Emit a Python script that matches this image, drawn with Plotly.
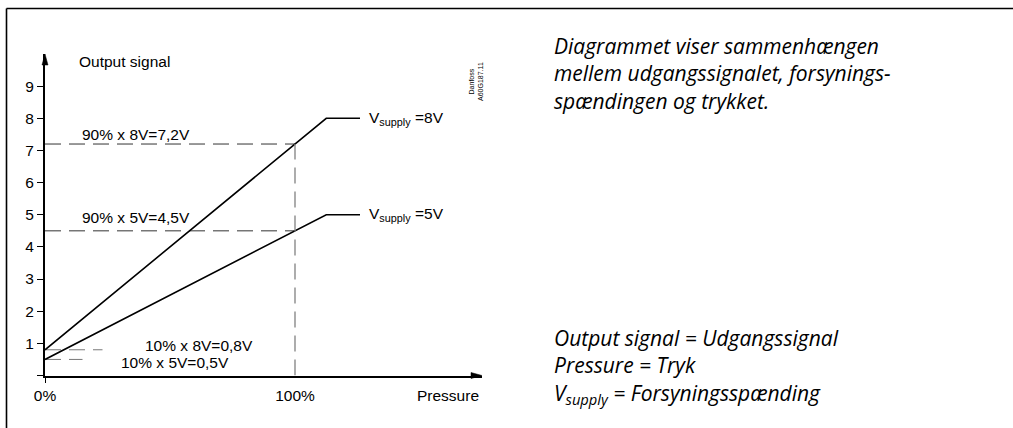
import plotly.graph_objects as go

W, H = 1013, 428

# ---- data ----
pressure_pts = [0.0, 1.125, 1.26]          # fraction of full-scale pressure
out_8v = [0.8, 8.0, 8.0]                    # output signal, Vsupply = 8 V
out_5v = [0.5, 5.0, 5.0]                    # output signal, Vsupply = 5 V
full_scale = 1.0                            # 100 % pressure
hi_levels = [7.2, 4.5]                      # 90 % of supply
lo_levels = [0.8, 0.5]                      # 10 % of supply
lo_dash_end = [0.23, 0.15]
y_ticks = [0, 1, 2, 3, 4, 5, 6, 7, 8, 9]
y_ticktext = ["", "1", "2", "3", "4", "5", "6", "7", "8", "9"]
x_ticks = [0.0, 1.0]
x_ticktext = ["0%", "100%"]
x_max, y_max = 1.748, 10.0

desc_lines = ["Diagrammet viser sammenhængen",
              "mellem udgangssignalet, forsynings-",
              "spændingen og trykket."]
legend_lines = ["Output signal = Udgangssignal",
                "Pressure = Tryk",
                "V<sub>supply</sub> = Forsyningsspænding"]

FONT = "Liberation Sans, Arial, sans-serif"
FS = 15.5

def px(x):
    return x / W

def py(y):
    return 1 - y / H

# axis geometry in pixels
AX_L, AX_R, AX_B, AX_T = 45, 482, 375.5, 54

fig = go.Figure()

dash_pat = "16px,8px"
for lvl in hi_levels:
    fig.add_trace(go.Scatter(x=[0, full_scale], y=[lvl, lvl], mode="lines",
                             line=dict(color="#333333", width=1, dash=dash_pat),
                             hoverinfo="skip", showlegend=False))
for lvl, xe in zip(lo_levels, lo_dash_end):
    fig.add_trace(go.Scatter(x=[0, xe], y=[lvl, lvl], mode="lines",
                             line=dict(color="#777777", width=1, dash=dash_pat),
                             hoverinfo="skip", showlegend=False))
fig.add_trace(go.Scatter(x=[full_scale, full_scale], y=[0, hi_levels[0]], mode="lines",
                         line=dict(color="#808080", width=1.3, dash=dash_pat),
                         xaxis="x2", hoverinfo="skip", showlegend=False))

for ys in (out_8v, out_5v):
    fig.add_trace(go.Scatter(x=pressure_pts, y=ys, mode="lines",
                             line=dict(color="black", width=1.6),
                             hoverinfo="skip", showlegend=False))

ann = []
def label(x, y, text, xanchor="left", size=FS):
    ann.append(dict(x=x, y=y, xref="x", yref="y", text=text, showarrow=False,
                    xanchor=xanchor, yanchor="middle",
                    font=dict(family=FONT, size=size, color="black")))

label(0.128, 9.77, "Output signal")
label(0.14, 7.49, "90% x 8V=7,2V")
label(0.14, 4.90, "90% x 5V=4,5V")
label(0.392, 0.92, "10% x 8V=0,8V")
label(0.296, 0.39, "10% x 5V=0,5V")
label(1.288, out_8v[-1], "V<sub>supply</sub> =8V")
label(1.288, out_5v[-1], "V<sub>supply</sub> =5V")
ann.append(dict(x=px(481), y=py(395), xref="paper", yref="paper", text="Pressure",
                showarrow=False, xanchor="right", yanchor="middle",
                font=dict(family=FONT, size=FS, color="black")))

ann.append(dict(x=px(476), y=py(82), xref="paper", yref="paper", text="Danfoss<br>A60G187.11",
                showarrow=False, textangle=-90, xanchor="center", yanchor="middle",
                font=dict(family=FONT, size=7, color="black")))

RFONT = "Open Sans, Noto Sans, sans-serif"
RFS = 21
ann.append(dict(x=px(552), y=py(74), xref="paper", yref="paper",
                text="<i>" + "<br>".join(desc_lines) + "</i>", showarrow=False,
                xanchor="left", yanchor="middle", align="left",
                font=dict(family=RFONT, size=RFS, color="black")))
ann.append(dict(x=px(552), y=py(366.5), xref="paper", yref="paper",
                text="<i>" + "<br>".join(legend_lines) + "</i>", showarrow=False,
                xanchor="left", yanchor="middle", align="left",
                font=dict(family=RFONT, size=RFS, color="black")))

def ppath(points):
    return "M" + " L".join(f"{px(a):.5f},{py(b):.5f}" for a, b in points) + " Z"

shapes = [
    dict(type="line", xref="paper", yref="paper", x0=px(6.5), x1=1, y0=py(8.5), y1=py(8.5),
         line=dict(color="black", width=1.6)),
    dict(type="line", xref="paper", yref="paper", x0=px(6.5), x1=px(6.5), y0=py(8.5), y1=0,
         line=dict(color="black", width=1.6)),
    # arrowheads at the axis ends
    dict(type="path", xref="paper", yref="paper",
         path=ppath([(AX_L, AX_T), (AX_L - 3, AX_T + 11), (AX_L + 3, AX_T + 11)]),
         fillcolor="black", line=dict(color="black", width=0.5)),
    dict(type="path", xref="paper", yref="paper",
         path=ppath([(AX_R, AX_B), (AX_R - 11, AX_B - 3), (AX_R - 11, AX_B + 3)]),
         fillcolor="black", line=dict(color="black", width=0.5)),
]

fig.update_layout(
    width=W, height=H,
    margin=dict(l=0, r=0, t=0, b=0, autoexpand=False),
    paper_bgcolor="white", plot_bgcolor="white",
    showlegend=False,
    annotations=ann,
    shapes=shapes,
    xaxis=dict(domain=[px(AX_L), px(AX_R)], range=[0, x_max], showgrid=False, zeroline=False,
               showline=True, linecolor="black", linewidth=2, automargin=False,
               tickmode="array", tickvals=x_ticks, ticktext=x_ticktext, ticks="",
               ticklabelstandoff=5,
               tickfont=dict(family=FONT, size=FS, color="black"), anchor="y"),
    xaxis2=dict(matches="x", overlaying="x", anchor="y", side="bottom", showgrid=False,
                zeroline=False, showline=False, tickmode="array", tickvals=[0],
                ticks="outside", ticklen=6, tickwidth=1, tickcolor="black",
                showticklabels=False, automargin=False),
    yaxis=dict(domain=[py(AX_B), py(AX_T)], range=[0, y_max], showgrid=False, zeroline=False,
               showline=True, linecolor="black", linewidth=2, automargin=False,
               tickmode="array", tickvals=y_ticks, ticktext=y_ticktext,
               ticks="outside", ticklen=6, tickwidth=1, tickcolor="black",
               tickfont=dict(family=FONT, size=FS, color="black"), anchor="x"),
)

fig.write_html("out.html", config={"displayModeBar": False},
               post_script="document.body.style.margin='0';document.body.style.overflow='hidden';")
